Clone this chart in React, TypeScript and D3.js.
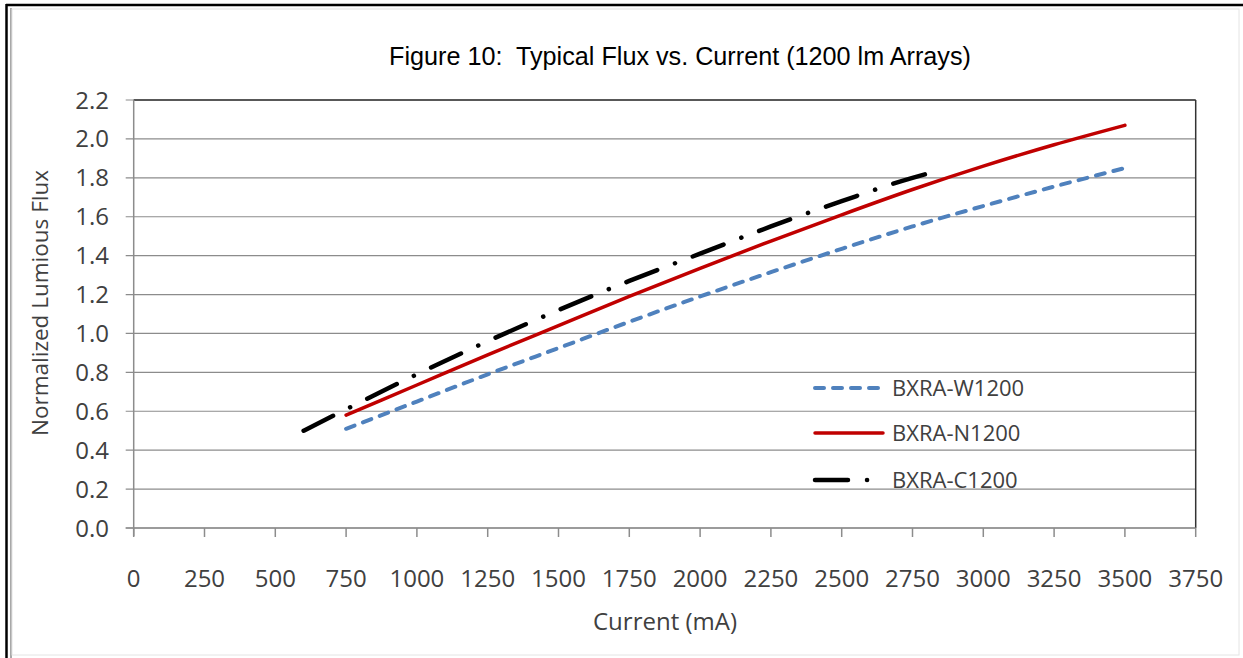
import React from "react";
import * as d3 from "d3";

const title = "Figure 10:  Typical Flux vs. Current (1200 lm Arrays)";
const xTitle = "Current (mA)";
const yTitle = "Normalized Lumious Flux";

const xTicks = [0, 250, 500, 750, 1000, 1250, 1500, 1750, 2000, 2250, 2500, 2750, 3000, 3250, 3500, 3750];
const yTicks = [0, 0.2, 0.4, 0.6, 0.8, 1.0, 1.2, 1.4, 1.6, 1.8, 2.0, 2.2];

const currentW = [750, 1000, 1250, 1500, 1750, 2000, 2250, 2500, 2750, 3000, 3250, 3500];
const fluxW = [0.51, 0.65, 0.79, 0.925, 1.06, 1.19, 1.315, 1.435, 1.55, 1.655, 1.755, 1.85];

const currentN = [750, 1000, 1250, 1500, 1750, 2000, 2250, 2500, 2750, 3000, 3250, 3500];
const fluxN = [0.58, 0.735, 0.89, 1.04, 1.19, 1.335, 1.475, 1.61, 1.74, 1.86, 1.97, 2.07];

const currentC = [600, 750, 1000, 1250, 1500, 1750, 2000, 2250, 2500, 2750, 2800];
const fluxC = [0.5, 0.61, 0.79, 0.96, 1.12, 1.27, 1.41, 1.55, 1.68, 1.8, 1.82];

const seriesNames = ["BXRA-W1200", "BXRA-N1200", "BXRA-C1200"];

const W = 1243;
const H = 658;
const left = 133.7;
const right = 1195.7;
const top = 100;
const bottom = 528;

export default function App() {
  const x = d3.scaleLinear().domain([0, 3750]).range([left, right]);
  const y = d3.scaleLinear().domain([0, 2.2]).range([bottom, top]);
  const line = d3
    .line<[number, number]>()
    .x((d) => x(d[0]))
    .y((d) => y(d[1]))
    .curve(d3.curveMonotoneX);

  const series = [
    { name: seriesNames[0], xs: currentW, ys: fluxW, color: "#4F81BD", width: 4, dash: "9 9", cap: "round" },
    { name: seriesNames[1], xs: currentN, ys: fluxN, color: "#C00000", width: 3.5, dash: "none", cap: "round" },
    { name: seriesNames[2], xs: currentC, ys: fluxC, color: "#000000", width: 4.5, dash: "33 19 0.1 19", cap: "round" },
  ];

  const tickFont = "'Open Sans', sans-serif";
  const legendX1 = 813;
  const legendX2 = 885;
  const legendY = [388, 433, 480];

  return (
    <svg width={W} height={H} style={{ position: "absolute", left: 0, top: 0, background: "#fff" }}>
      <rect x={0} y={0} width={W} height={H} fill="#fff" />
      {/* outer frames */}
      <line x1={6} y1={5} x2={W} y2={5} stroke="#000" strokeWidth={2.5} />
      <line x1={6.5} y1={4} x2={6.5} y2={H} stroke="#000" strokeWidth={2.5} />
      <line x1={11} y1={8} x2={11} y2={H} stroke="#a8a8a8" strokeWidth={2} />
      <rect x={12} y={9} width={1227} height={646} fill="none" stroke="#e4e4e4" strokeWidth={1} />

      <text
        x={680}
        y={65}
        textAnchor="middle"
        fontFamily="'Liberation Sans', Arial, sans-serif"
        fontSize={25.2}
        fill="#000"
        style={{ whiteSpace: "pre" }}
      >
        {title}
      </text>

      {/* gridlines */}
      {yTicks.map((t) => (
        <line key={"g" + t} x1={left - 8} x2={right} y1={y(t)} y2={y(t)} stroke="#8c8c8c" strokeWidth={1.2} />
      ))}
      {/* plot top and right border */}
      <line x1={left} x2={right} y1={top} y2={top} stroke="#333" strokeWidth={1.5} />
      <line x1={right} x2={right} y1={top} y2={bottom} stroke="#333" strokeWidth={1.5} />
      {/* axes */}
      <line x1={left} x2={left} y1={top} y2={bottom + 8} stroke="#8c8c8c" strokeWidth={1.5} />
      <line x1={left - 8} x2={right} y1={bottom} y2={bottom} stroke="#8c8c8c" strokeWidth={1.5} />
      {xTicks.map((t) => (
        <line key={"xt" + t} x1={x(t)} x2={x(t)} y1={bottom} y2={bottom + 9} stroke="#8c8c8c" strokeWidth={1.5} />
      ))}
      {xTicks.map((t) => (
        <text key={"xl" + t} x={x(t)} y={587} textAnchor="middle" fontFamily={tickFont} fontSize={24} fill="#404040">
          {t}
        </text>
      ))}
      {yTicks.map((t) => (
        <text key={"yl" + t} x={109} y={y(t) + 8.5} textAnchor="end" fontFamily={tickFont} fontSize={24} fill="#404040">
          {d3.format(".1f")(t)}
        </text>
      ))}
      <text x={665} y={630} textAnchor="middle" fontFamily={tickFont} fontSize={24} fill="#404040">
        {xTitle}
      </text>
      <text
        transform={`translate(48, 303) rotate(-90)`}
        textAnchor="middle"
        fontFamily={tickFont}
        fontSize={22.5}
        fill="#404040"
      >
        {yTitle}
      </text>

      {/* series */}
      {series.map((s) => (
        <path
          key={s.name}
          d={line(s.xs.map((v, i) => [v, s.ys[i]] as [number, number])) || ""}
          fill="none"
          stroke={s.color}
          strokeWidth={s.width}
          strokeDasharray={s.dash}
          strokeLinecap={s.cap as any}
        />
      ))}

      {/* legend */}
      {series.map((s, i) => (
        <g key={"lg" + s.name}>
          <line
            x1={legendX1 + 2}
            x2={legendX2 - 2}
            y1={legendY[i]}
            y2={legendY[i]}
            stroke={s.color}
            strokeWidth={s.width}
            strokeDasharray={s.dash}
            strokeLinecap={s.cap as any}
          />
          <text x={892} y={legendY[i] + 8} fontFamily={tickFont} fontSize={22} fill="#404040">
            {s.name}
          </text>
        </g>
      ))}
    </svg>
  );
}
